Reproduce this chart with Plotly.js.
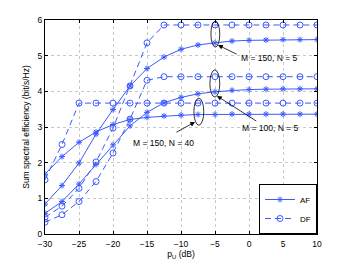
<!DOCTYPE html>
<html>
<head>
<meta charset="utf-8">
<script src="https://cdn.plot.ly/plotly-3.0.1.min.js"></script>
<style>html,body{margin:0;padding:0;background:#fff;}#chart{width:350px;height:264px;}</style>
</head>
<body>
<div id="chart"></div>
<script>
const pU = [-30,-27.5,-25,-22.5,-20,-17.5,-15,-12.5,-10,-7.5,-5,-2.5,0,2.5,5,7.5,10];
const afM150N5  = [0.84,1.36,1.99,2.80,3.49,4.15,4.64,4.96,5.18,5.30,5.36,5.41,5.43,5.44,5.45,5.45,5.45];
const afM100N5  = [0.58,0.91,1.40,1.95,2.50,3.03,3.41,3.68,3.83,3.93,3.99,4.03,4.05,4.06,4.07,4.07,4.07];
const afM150N40 = [1.68,2.17,2.57,2.86,3.07,3.21,3.27,3.31,3.33,3.35,3.35,3.36,3.36,3.36,3.36,3.36,3.36];
const dfM150N5  = [0.47,0.78,1.28,2.02,2.97,4.15,5.36,5.86,5.86,5.86,5.86,5.86,5.86,5.86,5.86,5.86,5.86];
const dfM100N5  = [0.33,0.54,0.91,1.47,2.27,3.22,4.31,4.41,4.41,4.41,4.41,4.41,4.41,4.41,4.41,4.41,4.41];
const dfM150N40 = [1.52,2.51,3.67,3.67,3.67,3.67,3.67,3.67,3.67,3.67,3.67,3.67,3.67,3.67,3.67,3.67,3.67];

const blue = 'rgb(60,90,255)';
function af(y, show){
  return {x:pU, y:y, type:'scatter', mode:'lines+markers', name:'AF', legendgroup:'AF', showlegend:show,
    line:{color:blue, width:1}, marker:{symbol:'asterisk-open', size:5, color:blue, line:{color:blue, width:1}}};
}
function df(y, show){
  return {x:pU, y:y, type:'scatter', mode:'lines+markers', name:'DF', legendgroup:'DF', showlegend:show,
    line:{color:blue, width:1, dash:'6px,4px'}, marker:{symbol:'circle-open', size:6, color:blue, line:{color:blue, width:1}}};
}
const traces = [af(afM150N5,true), af(afM100N5,false), af(afM150N40,false),
                df(dfM150N5,true), df(dfM100N5,false), df(dfM150N40,false)];

const ellipses = [[-5.6,-4.3,5.24,5.97],[-5.75,-4.3,3.84,4.6],[-8.1,-6.65,3.05,3.81]];
const shapes = ellipses.map(e => ({type:'circle', xref:'x', yref:'y', x0:e[0], x1:e[1], y0:e[2], y1:e[3],
  line:{color:'#000', width:0.8}}));

const labels = ['M = 150, N = 5','M = 100, N = 5','M = 150, N = 40'];
const labelPos = [[3.0,4.93],[3.1,2.97],[-12.6,2.55]];
const arrows = [[-4.56,5.30,-1.6,5.02],[-4.7,3.87,1.3,3.14],[-7.94,3.14,-10.9,2.83]];
const annotations = [];
arrows.forEach(a => annotations.push({x:a[0], y:a[1], ax:a[2], ay:a[3], xref:'x', yref:'y', axref:'x', ayref:'y',
  text:'', showarrow:true, arrowhead:2, arrowsize:1.2, arrowwidth:0.8, arrowcolor:'#000'}));
labels.forEach((t,i) => annotations.push({x:labelPos[i][0], y:labelPos[i][1], xref:'x', yref:'y', text:t,
  showarrow:false, font:{size:8.5, color:'#000'}}));

const layout = {
  width:350, height:264,
  margin:{l:45, r:33, t:20, b:30},
  paper_bgcolor:'#fff', plot_bgcolor:'#fff',
  font:{family:'Liberation Sans, Arial, sans-serif', size:8.5, color:'#000'},
  xaxis:{range:[-30,10], tickvals:[-30,-25,-20,-15,-10,-5,0,5,10], ticktext:['\u221230','\u221225','\u221220','\u221215','\u221210','\u22125','0','5','10'],
    showline:true, linecolor:'#000', linewidth:1, mirror:'ticks', ticks:'inside', ticklen:3, tickcolor:'#000',
    ticklabelstandoff:2,
    showgrid:true, gridcolor:'#c8c8c8', griddash:'dot', gridwidth:1, zeroline:false,
    title:{text:'p<sub>U</sub> (dB)', font:{size:8.5}, standoff:1}},
  yaxis:{range:[0,6], tickvals:[0,1,2,3,4,5,6],
    showline:true, linecolor:'#000', linewidth:1, mirror:'ticks', ticks:'inside', ticklen:3, tickcolor:'#000',
    showgrid:true, gridcolor:'#c8c8c8', griddash:'dot', gridwidth:1, zeroline:false,
    title:{text:'Sum spectral efficiency (bit/s/Hz)', font:{size:8.5}, standoff:6}},
  legend:{x:1, y:0, xanchor:'right', yanchor:'bottom', bgcolor:'#fff', bordercolor:'#000', borderwidth:1,
    font:{size:8}, itemwidth:30, tracegroupgap:0},
  shapes:shapes,
  annotations:annotations,
  showlegend:true
};
Plotly.newPlot('chart', traces, layout, {displayModeBar:false, staticPlot:true});
</script>
</body>
</html>
